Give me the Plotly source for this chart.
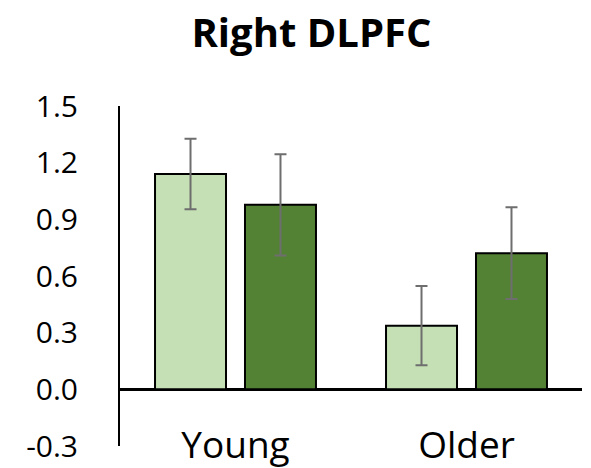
import plotly.graph_objects as go

groups = ["Young", "Older"]
series_names = ["Condition A", "Condition B"]
light_vals = [1.14, 0.337]
light_err = [0.187, 0.21]
dark_vals = [0.977, 0.721]
dark_err = [0.268, 0.243]
ytick_vals = [-0.3, 0.0, 0.3, 0.6, 0.9, 1.2, 1.5]
ytick_text = ["-0.3", "0.0", "0.3", "0.6", "0.9", "1.2", "1.5"]
title_text = "Right DLPFC"

FONT = "Open Sans"
fig = go.Figure()
fig.add_trace(go.Bar(
    x=groups, y=light_vals, name=series_names[0],
    marker=dict(color="#C5E0B4", line=dict(color="black", width=2)),
    error_y=dict(type="data", array=light_err, color="#6E6E6E", thickness=2, width=6),
))
fig.add_trace(go.Bar(
    x=groups, y=dark_vals, name=series_names[1],
    marker=dict(color="#548235", line=dict(color="black", width=2)),
    error_y=dict(type="data", array=dark_err, color="#6E6E6E", thickness=2, width=6),
))

fig.update_layout(
    width=591, height=468,
    margin=dict(l=120, r=9, t=106, b=22, autoexpand=False),
    paper_bgcolor="white", plot_bgcolor="white",
    barmode="group", bargap=0.221, bargroupgap=0.211,
    showlegend=False,
    title=dict(text="<b>" + title_text + "</b>", x=0.527, xref="container", xanchor="center",
               y=1 - 32.5 / 468, yref="container", yanchor="middle",
               font=dict(family=FONT, size=40, color="black")),
    font=dict(family=FONT, color="black"),
    xaxis=dict(anchor="free", position=0.0765, showline=False, showgrid=False, zeroline=False,
               automargin=False,
               ticks="", tickfont=dict(family=FONT, size=37, color="black")),
    yaxis=dict(range=[-0.3, 1.5], tickvals=ytick_vals, ticktext=ytick_text,
               automargin=False,
               showline=True, linecolor="black", linewidth=2, showgrid=False,
               zeroline=True, zerolinecolor="black", zerolinewidth=3,
               ticks="", ticklabelstandoff=34,
               tickfont=dict(family=FONT, size=30, color="black")),
)
fig.write_html("out.html")
